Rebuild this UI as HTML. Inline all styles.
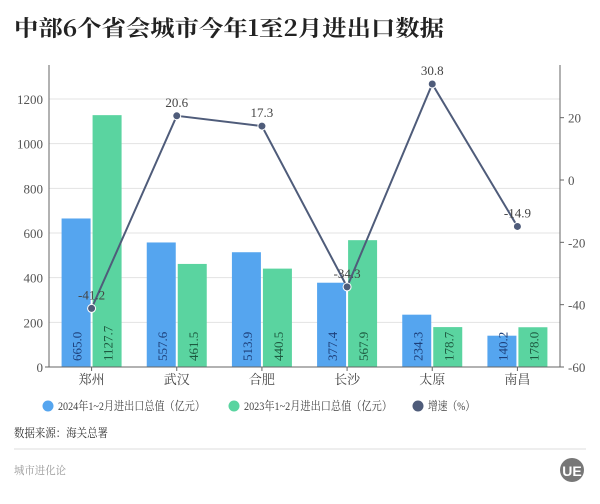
<!DOCTYPE html>
<html><head><meta charset="utf-8"><style>
body{margin:0;background:#fff;width:600px;height:499px;overflow:hidden;font-family:"Liberation Serif","Noto Serif CJK SC",serif}
</style></head><body>
<svg width="600" height="499" id="svg" font-family="Liberation Serif, Noto Serif CJK SC, serif">
<text x="14" y="36" font-size="22" font-weight="bold" fill="#222" textLength="430" lengthAdjust="spacingAndGlyphs" font-family="Noto Serif CJK SC, serif">中部6个省会城市今年1至2月进出口数据</text>
</svg>
<script>
const categories=["郑州","武汉","合肥","长沙","太原","南昌"];
const series2024=[665.0,557.6,513.9,377.4,234.3,140.2];
const series2023=[1127.7,461.5,440.5,567.9,178.7,178.0];
const growth=[-41.2,20.6,17.3,-34.3,30.8,-14.9];
const leftTicks=[0,200,400,600,800,1000,1200];
const rightTicks=[-60,-40,-20,0,20];
const svg=document.getElementById('svg');const NS='http://www.w3.org/2000/svg';
const X0=49,X1=560,Y0=367;
const yL=v=>Y0-v*268/1200;
const yR=v=>180-v*187/60;
const band=(X1-X0)/categories.length;
const xc=i=>X0+band*(i+0.5);
function mk(t,a,p){const e=document.createElementNS(NS,t);for(const k in a)e.setAttribute(k,a[k]);(p||svg).appendChild(e);return e;}
leftTicks.forEach(v=>{if(v>0){const g=mk('line',{x1:X0,x2:X1,y1:yL(v),y2:yL(v),stroke:'#e3e3e3'});

}
const t=mk('text',{x:X0-6,y:yL(v)+5,'text-anchor':'end','font-size':13,fill:'#555'});t.textContent=v;

});
rightTicks.forEach(v=>{mk('line',{x1:X1,x2:X1+4,y1:yR(v),y2:yR(v),stroke:'#666'});const t=mk('text',{x:X1+8,y:yR(v)+5,'font-size':13,fill:'#555'});t.textContent=v;

});
categories.forEach((c,i)=>{
const cx=xc(i);
[[series2024[i],'#55a5ef','#1d3f7a',cx-30],[series2023[i],'#5ad4a0','#1d5a40',cx+1]].forEach(([v,f,tc,x],j)=>{
const r=mk('rect',{x:x,y:yL(v),width:29,height:Y0-yL(v),fill:f});


const t=mk('text',{x:0,y:0,transform:`translate(${x+20},${Y0-6}) rotate(-90)`,'font-size':13,fill:tc});t.textContent=v.toFixed(1);

});
const t=mk('text',{x:cx,y:Y0+17,'text-anchor':'middle','font-size':13,fill:'#444'});t.textContent=c;


mk('line',{x1:cx,x2:cx,y1:Y0,y2:Y0+4,stroke:'#666'});
});
mk('line',{x1:X0,x2:X0,y1:65,y2:Y0,stroke:'#666'});
mk('line',{x1:X1,x2:X1,y1:65,y2:Y0,stroke:'#666'});
mk('line',{x1:X0-4,x2:X1,y1:Y0,y2:Y0,stroke:'#666'});
const pl=mk('polyline',{points:growth.map((g,i)=>xc(i)+','+yR(g)).join(' '),fill:'none',stroke:'#4f5c7a','stroke-width':2});


growth.forEach((g,i)=>{const c=mk('circle',{cx:xc(i),cy:yR(g),r:4,fill:'#4f5c7a',stroke:'#fff','stroke-width':1});


const t=mk('text',{x:xc(i),y:yR(g)-9,'text-anchor':'middle','font-size':13,fill:'#444'});t.textContent=g.toFixed(1);

});
</script>
<svg width="600" height="499" style="position:absolute;left:0;top:0" font-family="Liberation Serif, Noto Serif CJK SC, serif">
<g font-size="12" fill="#444">
<circle cx="48" cy="406" r="5.5" fill="#55a5ef"/><text x="58" y="410" textLength="147" lengthAdjust="spacingAndGlyphs">2024年1~2月进出口总值（亿元）</text>
<circle cx="234" cy="406" r="5.5" fill="#5ad4a0"/><text x="244" y="410" textLength="148" lengthAdjust="spacingAndGlyphs">2023年1~2月进出口总值（亿元）</text>
<circle cx="418" cy="406" r="5.5" fill="#4f5c7a"/><text x="428" y="410" textLength="47" lengthAdjust="spacingAndGlyphs">增速（%）</text>
</g>
<text x="14" y="437" font-size="12" fill="#333" textLength="94" lengthAdjust="spacingAndGlyphs">数据来源：海关总署</text>
<line x1="14" x2="586" y1="449" y2="449" stroke="#ddd"/>
<text x="14" y="474" font-size="11" fill="#999" textLength="52" lengthAdjust="spacingAndGlyphs">城市进化论</text>
<g><circle cx="572" cy="470" r="12" fill="#777"/><text x="572" y="476" text-anchor="middle" font-size="14" font-weight="bold" fill="#fff" font-family="Liberation Sans, sans-serif">UE</text></g>
</svg>
</body></html>
